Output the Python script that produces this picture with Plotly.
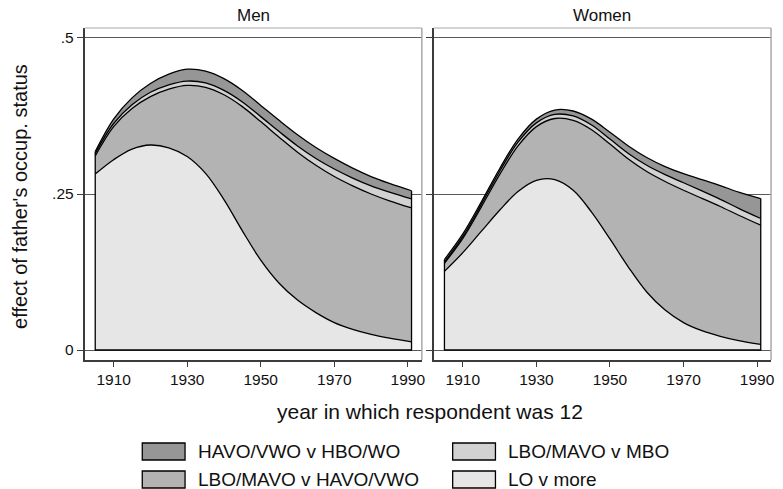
import plotly.graph_objects as go

# ---------------- data ----------------
years = [1905, 1910, 1915, 1920, 1925, 1930, 1935, 1940, 1945,
         1950, 1955, 1960, 1965, 1970, 1975, 1980, 1985, 1991]

series_names = ["LO v more", "LBO/MAVO v HAVO/VWO", "LBO/MAVO v MBO", "HAVO/VWO v HBO/WO"]
panel_titles = ["Men", "Women"]

men_lo_v_more = [0.282, 0.305, 0.322, 0.3285, 0.324, 0.310, 0.283, 0.241, 0.191,
                 0.144, 0.107, 0.080, 0.060, 0.044, 0.033, 0.025, 0.019, 0.013]
men_lbo_v_havo = [0.029, 0.053, 0.065, 0.0775, 0.094, 0.114, 0.138, 0.168, 0.199,
                  0.222, 0.234, 0.237, 0.236, 0.234, 0.230, 0.225, 0.220, 0.2147]
men_lbo_v_mbo = [0.004, 0.005, 0.006, 0.007, 0.007, 0.007, 0.007, 0.007, 0.0075,
                 0.008, 0.009, 0.010, 0.011, 0.012, 0.0125, 0.013, 0.014, 0.0145]
men_havo_v_hbo = [0.003, 0.007, 0.011, 0.014, 0.017, 0.019, 0.019, 0.019, 0.0185,
                  0.018, 0.018, 0.018, 0.0175, 0.017, 0.016, 0.015, 0.014, 0.013]

women_lo_v_more = [0.126, 0.156, 0.190, 0.224, 0.254, 0.272, 0.273, 0.256, 0.221,
                   0.178, 0.133, 0.093, 0.064, 0.044, 0.031, 0.022, 0.015, 0.009]
women_lbo_v_havo = [0.013, 0.023, 0.039, 0.057, 0.073, 0.086, 0.098, 0.112, 0.132,
                    0.152, 0.173, 0.193, 0.206, 0.212, 0.212, 0.208, 0.201, 0.191]
women_lbo_v_mbo = [0.002, 0.003, 0.004, 0.005, 0.006, 0.006, 0.0065, 0.007, 0.0075,
                   0.008, 0.009, 0.010, 0.011, 0.012, 0.012, 0.0115, 0.011, 0.0107]
women_havo_v_hbo = [0.004, 0.004, 0.004, 0.0045, 0.005, 0.006, 0.007, 0.008, 0.0095,
                    0.011, 0.012, 0.0125, 0.013, 0.0145, 0.018, 0.022, 0.026, 0.032]

x_tickvals = [1910, 1930, 1950, 1970, 1990]
y_tickvals = [0, 0.25, 0.5]
y_ticktext = ["0", ".25", ".5"]

x_title = "year in which respondent was 12"
y_title = "effect of father's occup. status"

# ---------------- styles ----------------
fill_colors = ["#e6e6e6", "#b3b3b3", "#d2d2d2", "#969696"]
W, H = 783, 489
FONT = "Liberation Sans, Arial, sans-serif"
AX = "#3c3c3c"
TXT = "#111111"


def px_x(p):
    return p / W


def px_y(p):
    return 1 - p / H


panels = [
    ("x", "y", [men_lo_v_more, men_lbo_v_havo, men_lbo_v_mbo, men_havo_v_hbo]),
    ("x2", "y2", [women_lo_v_more, women_lbo_v_havo, women_lbo_v_mbo, women_havo_v_hbo]),
]

fig = go.Figure()
for xa, ya, layers in panels:
    for name, vals, col in zip(series_names, layers, fill_colors):
        fig.add_trace(go.Scatter(
            x=years, y=vals, name=name, xaxis=xa, yaxis=ya,
            stackgroup="g" + xa, fillcolor=col,
            line=dict(color="black", width=1.3, shape="spline", smoothing=1.0),
            mode="lines", showlegend=False, hoverinfo="skip"))
    first_total = sum(v[0] for v in layers)
    last_total = sum(v[-1] for v in layers)
    fig.add_trace(go.Scatter(
        x=[years[0], years[0], years[-1], years[-1]],
        y=[first_total, 0, 0, last_total],
        xaxis=xa, yaxis=ya, mode="lines",
        line=dict(color="black", width=1.3), showlegend=False, hoverinfo="skip"))

x_range = [1902.1, 1993.8]
y_range = [-0.016, 0.516]
ydom = [px_y(360), px_y(28)]

common_x = dict(range=x_range, tickvals=x_tickvals, ticks="outside", ticklen=5,
                tickwidth=1.2, tickcolor=AX, showline=True, linecolor=AX, linewidth=1.6,
                showgrid=False, zeroline=False,
                tickfont=dict(family=FONT, size=15.5, color=TXT))
common_y = dict(range=y_range, tickvals=y_tickvals, ticktext=y_ticktext, ticks="outside",
                ticklen=6, tickwidth=1.2, tickcolor=AX, showline=True, linecolor=AX,
                linewidth=1.6, showgrid=True, gridcolor="#5a5a5a", gridwidth=1.2,
                zeroline=False, domain=ydom,
                tickfont=dict(family=FONT, size=15.5, color=TXT))

fig.update_layout(
    width=W, height=H,
    margin=dict(l=0, r=0, t=0, b=0),
    paper_bgcolor="white", plot_bgcolor="white",
    showlegend=False,
    xaxis=dict(domain=[px_x(85), px_x(424)], anchor="y", **common_x),
    xaxis2=dict(domain=[px_x(436), px_x(775)], anchor="y2", **common_x),
    yaxis=dict(anchor="x", **common_y),
    yaxis2=dict(anchor="x2", **common_y),
)
fig.update_layout(yaxis2=dict(showticklabels=False))

shapes = []
annotations = []
# plot-region borders (top and right)
for xa, ya in [("x", "y"), ("x2", "y2")]:
    shapes.append(dict(type="line", xref=xa + " domain", yref=ya + " domain",
                       x0=0, x1=1, y0=1, y1=1, line=dict(color="#c4c4c4", width=1.5)))
    shapes.append(dict(type="line", xref=xa + " domain", yref=ya + " domain",
                       x0=1, x1=1, y0=0, y1=1, line=dict(color="#a8a8a8", width=1.5)))

# panel titles
for title, cx in zip(panel_titles, [(85 + 424) / 2, (436 + 775) / 2]):
    annotations.append(dict(text=title, xref="paper", yref="paper", x=px_x(cx), y=px_y(15),
                            xanchor="center", yanchor="middle", showarrow=False,
                            font=dict(family=FONT, size=17, color=TXT)))

# axis titles
annotations.append(dict(text=y_title, xref="paper", yref="paper", x=px_x(20), y=px_y(196),
                        textangle=-90, xanchor="center", yanchor="middle", showarrow=False,
                        font=dict(family=FONT, size=20, color=TXT)))
annotations.append(dict(text=x_title, xref="paper", yref="paper", x=px_x(432), y=px_y(411),
                        xanchor="center", yanchor="middle", showarrow=False,
                        font=dict(family=FONT, size=21, color=TXT)))

# legend (2 columns, order as in reference)
legend_slots = [(3, 0, 0), (2, 0, 1), (1, 1, 0), (0, 1, 1)]  # (series idx, row, col)
cols_x = [143, 455]
rows_y = [(443, 460), (471, 488)]
for idx, r, c in legend_slots:
    x0 = cols_x[c]
    y0, y1 = rows_y[r]
    shapes.append(dict(type="rect", xref="paper", yref="paper",
                       x0=px_x(x0), x1=px_x(x0 + 43), y0=px_y(y1), y1=px_y(y0),
                       fillcolor=fill_colors[idx], line=dict(color="black", width=1.3)))
    annotations.append(dict(text=series_names[idx], xref="paper", yref="paper",
                            x=px_x(x0 + 54), y=px_y((y0 + y1) / 2), xanchor="left",
                            yanchor="middle", showarrow=False,
                            font=dict(family=FONT, size=19, color=TXT)))

fig.update_layout(shapes=shapes, annotations=annotations)
fig.write_html("out.html")
